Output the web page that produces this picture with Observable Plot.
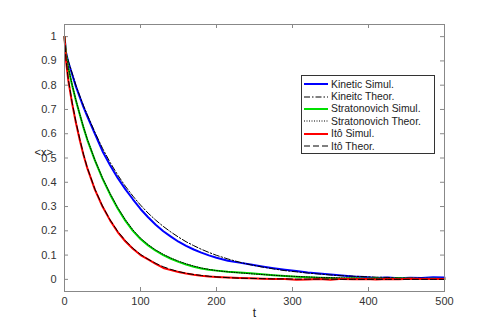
<!DOCTYPE html>
<html>
<head>
<meta charset="utf-8">
<script src="https://cdn.jsdelivr.net/npm/d3@7"></script>
<script src="https://cdn.jsdelivr.net/npm/@observablehq/plot@0.6"></script>
<style>
  html, body { margin: 0; padding: 0; background: white; }
  #wrap { position: relative; width: 491px; height: 327px; }
  #legend {
    position: absolute; left: 301px; top: 75px; width: 134px; height: 79px;
    border: 1px solid #333; background: white; box-sizing: border-box;
    font-family: "Liberation Sans", Arial, sans-serif; font-size: 10.4px; color: #222;
    padding-top: 2px;
  }
  .row { height: 12.4px; display: flex; align-items: center; }
  .row svg { margin-left: 2px; margin-right: 3px; flex: none; }
</style>
</head>
<body>
<div id="wrap"></div>
<script>
const tVals = [0,2,5,10,15,20,25,30,40,50,60,70,80,90,100,110,120,130,140,150,160,170,180,190,200,215,230,245,260,275,290,305,320,335,350,365,380,395,410,425,440,455,470,485,500];

const kineticSim = [1.0,0.935,0.895,0.845,0.795,0.752,0.71,0.672,0.60,0.528,0.47,0.418,0.372,0.33,0.29,0.256,0.225,0.198,0.176,0.155,0.138,0.123,0.11,0.099,0.089,0.077,0.069,0.061,0.053,0.046,0.04,0.034,0.028,0.024,0.02,0.016,0.012,0.01,0.006,0.008,0.005,0.007,0.006,0.009,0.008];
const kineticTheor = [1.0,0.94,0.90,0.85,0.80,0.757,0.716,0.678,0.606,0.54,0.482,0.43,0.384,0.343,0.306,0.273,0.244,0.218,0.195,0.174,0.155,0.139,0.124,0.111,0.099,0.084,0.071,0.06,0.051,0.043,0.036,0.031,0.026,0.022,0.018,0.015,0.013,0.011,0.009,0.008,0.007,0.006,0.005,0.004,0.004];

const stratSim = [1.0,0.925,0.87,0.80,0.737,0.68,0.625,0.575,0.49,0.415,0.35,0.292,0.242,0.2,0.166,0.14,0.118,0.1,0.085,0.072,0.061,0.052,0.045,0.04,0.036,0.031,0.028,0.025,0.021,0.017,0.014,0.011,0.009,0.007,0.006,0.004,0.005,0.003,0.004,0.002,0.004,0.003,0.002,0.003,0.001];
const stratTheor = [1.0,0.928,0.873,0.803,0.74,0.682,0.628,0.578,0.492,0.418,0.354,0.296,0.246,0.204,0.17,0.143,0.121,0.103,0.088,0.075,0.064,0.055,0.047,0.041,0.036,0.031,0.027,0.023,0.02,0.017,0.014,0.012,0.01,0.008,0.007,0.006,0.005,0.004,0.004,0.003,0.003,0.002,0.002,0.002,0.002];

const itoSim = [1.0,0.9,0.82,0.725,0.645,0.575,0.512,0.458,0.37,0.3,0.243,0.195,0.157,0.126,0.1,0.082,0.064,0.047,0.038,0.03,0.024,0.019,0.015,0.012,0.01,0.008,0.006,0.005,0.003,0.002,0.001,-0.002,-0.001,0.001,-0.002,0.002,0.0,0.001,-0.001,0.002,0.0,0.003,0.001,0.002,0.002];
const itoTheor = [1.0,0.905,0.825,0.73,0.65,0.58,0.516,0.46,0.372,0.302,0.245,0.198,0.16,0.128,0.103,0.083,0.066,0.052,0.041,0.032,0.025,0.02,0.016,0.013,0.01,0.007,0.005,0.004,0.003,0.002,0.002,0.001,0.001,0.001,0.001,0.0,0.0,0.0,0.0,0.0,0.0,0.0,0.0,0.0,0.0];

const xTicks = [0,100,200,300,400,500];
const yTicks = [0,0.1,0.2,0.3,0.4,0.5,0.6,0.7,0.8,0.9,1];

const seriesNames = ["Kinetic Simul.","Kineitc Theor.","Stratonovich Simul.","Stratonovich Theor.","Itô Simul.","Itô Theor."];
const seriesData = [kineticSim, kineticTheor, stratSim, stratTheor, itoSim, itoTheor];
const seriesColors = ["#0000ff","#000000","#00e000","#000000","#ff0000","#000000"];
const seriesWidths = [2, 1, 2, 1, 2, 1];
const seriesDash = [null, "6,2,1.5,2", null, "1,1.5", null, "6,3"];

const W = 491, H = 327;
const mL = 64, mR = 47, mT = 24, mB = 36;
const innerW = W - mL - mR, innerH = H - mT - mB;
const axisColor = "#888";
const tickLen = 4;

function rows(arr) { return tVals.map((t, i) => ({t, v: arr[i]})); }

const lineMarks = seriesData.map((arr, i) =>
  Plot.line(rows(arr), {
    x: "t", y: "v",
    stroke: seriesColors[i],
    strokeWidth: seriesWidths[i],
    strokeDasharray: seriesDash[i] || undefined,
    strokeLinejoin: "round"
  })
);

const chart = Plot.plot({
  width: W, height: H,
  marginLeft: mL, marginRight: mR, marginTop: mT, marginBottom: mB,
  x: {domain: [0, 500]},
  y: {domain: [-0.05, 1.05]},
  style: {fontFamily: "'Liberation Sans', Arial, sans-serif", fontSize: "11px", color: "#333", background: "white"},
  marks: [
    Plot.axisX(xTicks, {tickSize: 0, tickPadding: 6, label: null, fill: "#333"}),
    Plot.axisY(yTicks, {tickSize: 0, tickPadding: 8, label: null, tickFormat: d => String(d), fill: "#333"}),
    Plot.tickX(xTicks, {x: d => d, stroke: axisColor, insetTop: innerH - tickLen}),
    Plot.tickX(xTicks, {x: d => d, stroke: axisColor, insetBottom: innerH - tickLen}),
    Plot.tickY(yTicks, {y: d => d, stroke: axisColor, insetRight: innerW - tickLen}),
    Plot.tickY(yTicks, {y: d => d, stroke: axisColor, insetLeft: innerW - tickLen}),
    ...lineMarks,
    Plot.frame({stroke: axisColor}),
    Plot.text(["t"], {text: d => d, frameAnchor: "bottom", dy: 25, fontSize: 12, fill: "#222"}),
    Plot.text(["<x>"], {text: d => d, frameAnchor: "left", dx: -30, dy: -6, fontSize: 11, fill: "#222"})
  ]
});

const wrap = document.getElementById("wrap");
wrap.appendChild(chart);

const legend = document.createElement("div");
legend.id = "legend";
seriesNames.forEach((name, i) => {
  const row = document.createElement("div");
  row.className = "row";
  const dash = seriesDash[i] ? `stroke-dasharray="${seriesDash[i]}"` : "";
  row.innerHTML = `<svg width="24" height="6"><line x1="0" x2="24" y1="3" y2="3" stroke="${seriesColors[i]}" stroke-width="${seriesWidths[i]}" ${dash}/></svg><span>${name}</span>`;
  legend.appendChild(row);
});
wrap.appendChild(legend);
</script>
</body>
</html>
